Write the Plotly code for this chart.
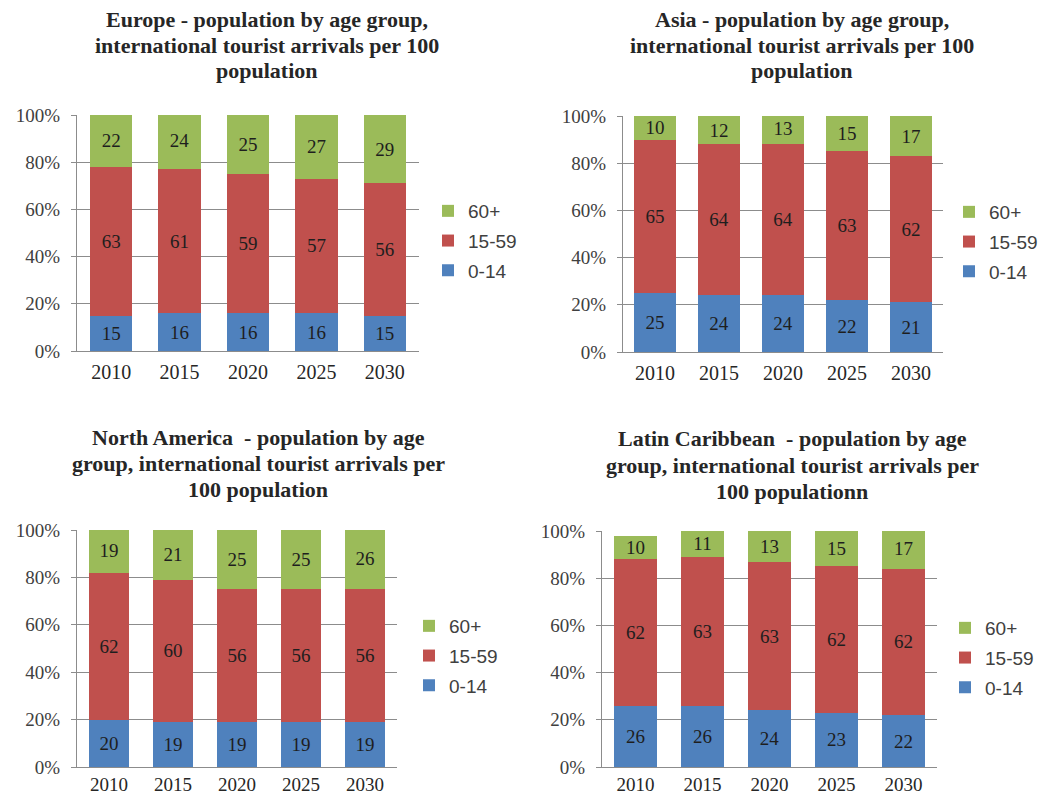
import plotly.graph_objects as go

years = ["2010", "2015", "2020", "2025", "2030"]
age_groups = ["0-14", "15-59", "60+"]
colors = {"0-14": "#4F81BD", "15-59": "#C0504D", "60+": "#9BBB59"}
legend_rank = {"60+": 1, "15-59": 2, "0-14": 3}

y_tick_vals = [0, 20, 40, 60, 80, 100]
y_tick_text = ["0%", "20%", "40%", "60%", "80%", "100%"]

europe_0_14 = [15, 16, 16, 16, 15]
europe_15_59 = [63, 61, 59, 57, 56]
europe_60 = [22, 24, 25, 27, 29]

asia_0_14 = [25, 24, 24, 22, 21]
asia_15_59 = [65, 64, 64, 63, 62]
asia_60 = [10, 12, 13, 15, 17]

na_0_14 = [20, 19, 19, 19, 19]
na_15_59 = [62, 60, 56, 56, 56]
na_60 = [19, 21, 25, 25, 26]

lc_0_14 = [26, 26, 24, 23, 22]
lc_15_59 = [62, 63, 63, 62, 62]
lc_60 = [10, 11, 13, 15, 17]

title_europe = ["Europe - population by age group,",
                "international tourist arrivals per 100",
                "population"]
title_asia = ["Asia - population by age group,",
              "international tourist arrivals per 100",
              "population"]
title_na = ["North America  - population by age",
            "group, international tourist arrivals per",
            "100 population"]
title_lc = ["Latin Caribbean  - population by age",
            "group, international tourist arrivals per",
            "100 populationn"]

# The page body has an 8px margin; the figure starts at (8, 8) in the window
OFF = 8
WIN_W, WIN_H = 1049, 796
W, H = WIN_W - OFF, WIN_H - OFF


def fx(px):
    return (px - OFF) / W


def fy(py):
    return 1 - (py - OFF) / H


panels = [
    dict(data=[europe_0_14, europe_15_59, europe_60], title=title_europe,
         x=(77, 419), y=(351, 115), title_x=267, title_y=(19, 45, 71),
         legend_xy=(428, 192), width=0.62, xfont=20, xstand=3),
    dict(data=[asia_0_14, asia_15_59, asia_60], title=title_asia,
         x=(623, 943), y=(352, 116), title_x=802, title_y=(19, 45, 71),
         legend_xy=(949, 193), width=0.65, xfont=20, xstand=3),
    dict(data=[na_0_14, na_15_59, na_60], title=title_na,
         x=(77, 397), y=(767, 530), title_x=258, title_y=(437, 463, 489),
         legend_xy=(409, 607), width=0.64, xfont=19, xstand=0),
    dict(data=[lc_0_14, lc_15_59, lc_60], title=title_lc,
         x=(602, 937), y=(767, 531), title_x=792, title_y=(439, 465, 491),
         legend_xy=(945, 609), width=0.64, xfont=19, xstand=0),
]

fig = go.Figure()
serif = "Liberation Serif"
grid_col = "#8C8C8C"

for i, p in enumerate(panels):
    n = "" if i == 0 else str(i + 1)
    xa, ya = "x" + n, "y" + n
    leg = "legend" + n
    for g, vals in zip(age_groups, p["data"]):
        fig.add_trace(go.Bar(
            x=years, y=vals, name=g, xaxis=xa, yaxis=ya,
            marker=dict(color=colors[g], line=dict(width=0)),
            width=p["width"],
            text=[str(v) for v in vals], textposition="inside",
            insidetextanchor="middle", constraintext="none", textangle=0,
            textfont=dict(family=serif, size=19, color="#1E1E1E"),
            legend=leg, legendgroup=g + n, legendrank=legend_rank[g],
            showlegend=True, hoverinfo="skip",
        ))
    x0, x1 = p["x"]
    yb, yt = p["y"]
    fig.layout["xaxis" + n] = dict(
        domain=[fx(x0), fx(x1)], anchor=ya, type="category",
        showline=True, linecolor=grid_col, linewidth=1,
        showgrid=False, ticks="", zeroline=False, automargin=False,
        tickfont=dict(family=serif, size=p["xfont"], color="#262626"),
        ticklabelstandoff=p["xstand"],
    )
    fig.layout["yaxis" + n] = dict(
        domain=[fy(yb), fy(yt)], anchor=xa, range=[0, 100],
        tickmode="array", tickvals=y_tick_vals, ticktext=y_tick_text,
        showline=True, linecolor=grid_col, linewidth=1,
        showgrid=True, gridcolor=grid_col, gridwidth=1,
        ticks="outside", ticklen=5, tickcolor=grid_col,
        zeroline=False, automargin=False,
        tickfont=dict(family=serif, size=19, color="#404040"),
        ticklabelstandoff=7,
    )
    lx, ly = p["legend_xy"]
    fig.layout[leg] = dict(
        x=fx(lx), y=fy(ly), xanchor="left", yanchor="top",
        traceorder="grouped", tracegroupgap=2,
        bgcolor="rgba(0,0,0,0)",
        font=dict(family="Liberation Sans", size=19, color="#404040"),
    )
    for line, ty in zip(p["title"], p["title_y"]):
        fig.add_annotation(
            text="<b>" + line + "</b>", x=fx(p["title_x"]), y=fy(ty),
            xref="paper", yref="paper",
            xanchor="center", yanchor="middle", showarrow=False,
            font=dict(family=serif, size=22, color="#262626"),
        )

fig.update_layout(
    width=W, height=H, barmode="stack",
    margin=dict(l=0, r=0, t=0, b=0, autoexpand=False),
    paper_bgcolor="white", plot_bgcolor="white",
)

fig.write_html("out.html")
